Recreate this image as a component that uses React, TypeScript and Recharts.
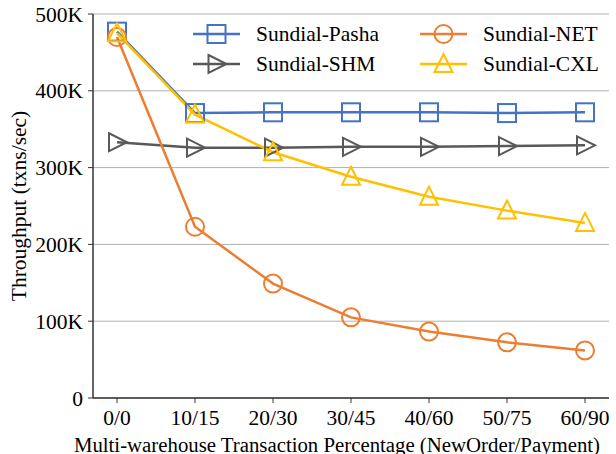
import {
  LineChart,
  Line,
  XAxis,
  YAxis,
  CartesianGrid,
  Legend,
  Label,
} from "recharts";

// TPC-C throughput vs. share of multi-warehouse transactions
const categories = ["0/0", "10/15", "20/30", "30/45", "40/60", "50/75", "60/90"];
const pasha = [477000, 371000, 372000, 372000, 372000, 371000, 372000];
const shm = [333000, 326000, 326000, 327000, 327000, 328000, 329000];
const net = [470000, 223000, 149000, 105000, 86500, 72500, 62000];
const cxl = [475000, 369000, 320000, 288000, 262000, 244000, 228000];
const yTicks = [0, 100000, 200000, 300000, 400000, 500000];

const FONT = "Liberation Serif, Times New Roman, serif";
const FS = 21.5;
const fontStyle = { fontFamily: FONT };

const series = [
  { key: "pasha", name: "Sundial-Pasha", color: "#4472C4", marker: "square" },
  { key: "shm", name: "Sundial-SHM", color: "#595959", marker: "right" },
  { key: "net", name: "Sundial-NET", color: "#ED7D31", marker: "circle" },
  { key: "cxl", name: "Sundial-CXL", color: "#FFC000", marker: "up" },
];

const data = categories.map((cat, i) => ({
  cat,
  pasha: pasha[i],
  shm: shm[i],
  net: net[i],
  cxl: cxl[i],
}));

function Marker({ kind, cx, cy, color }: { kind: string; cx: number; cy: number; color: string }) {
  const common = { fill: "none", stroke: color, strokeWidth: 2 };
  if (kind === "square") return <rect x={cx - 9} y={cy - 9} width={18} height={18} {...common} />;
  if (kind === "circle") return <circle cx={cx} cy={cy} r={9} {...common} />;
  if (kind === "right")
    return <polygon points={`${cx - 8},${cy - 9} ${cx + 10},${cy} ${cx - 8},${cy + 9}`} {...common} />;
  return <polygon points={`${cx},${cy - 10} ${cx + 9},${cy + 8} ${cx - 9},${cy + 8}`} {...common} />;
}

function makeDot(kind: string, color: string) {
  return (props: any) => {
    const { cx, cy, index } = props;
    if (cx == null || cy == null) return <g key={index} />;
    return (
      <g key={`${kind}-${index}`}>
        <Marker kind={kind} cx={cx} cy={cy} color={color} />
      </g>
    );
  };
}

// two-column legend, column-major like matplotlib's ncol=2
function renderLegend() {
  const cols = [193, 420];
  const rows = [34, 64];
  return (
    <svg width={616} height={90} style={{ display: "block" }}>
      {series.map((s, i) => {
        const x0 = cols[Math.floor(i / 2)];
        const y = rows[i % 2];
        return (
          <g key={s.key}>
            <line x1={x0} y1={y} x2={x0 + 47} y2={y} stroke={s.color} strokeWidth={2.5} />
            <Marker kind={s.marker} cx={x0 + 23.5} cy={y} color={s.color} />
            <text
              x={x0 + 63}
              y={y}
              dominantBaseline="central"
              style={fontStyle}
              fontSize={FS}
              fill="#000"
            >
              {s.name}
            </text>
          </g>
        );
      })}
    </svg>
  );
}

function formatK(v: number) {
  return v === 0 ? "0" : `${v / 1000}K`;
}

export default function App() {
  const tickStyle = { fontFamily: FONT, fontSize: FS, fill: "#000", style: fontStyle };
  return (
    <div style={{ position: "absolute", left: 0, top: 0, background: "#fff", fontFamily: FONT }}>
      <LineChart
        width={616}
        height={454}
        data={data}
        margin={{ top: 14, right: 7, left: 0, bottom: 0 }}
        style={fontStyle}
      >
        <CartesianGrid vertical={false} stroke="#b0b0b0" strokeWidth={1} />
        <XAxis
          dataKey="cat"
          height={56}
          padding={{ left: 24, right: 24 }}
          tick={tickStyle}
          tickSize={5}
          tickMargin={7}
          axisLine={{ stroke: "#333", strokeWidth: 1.5 }}
          tickLine={{ stroke: "#333" }}
          interval={0}
        >
          <Label
            content={({ viewBox }: any) => (
              <text
                x={viewBox.x + viewBox.width / 2 - 14}
                y={viewBox.y + 46}
                textAnchor="middle"
                dominantBaseline="central"
                style={fontStyle}
                fontSize={20.8}
                fill="#000"
              >
                Multi-warehouse Transaction Percentage (NewOrder/Payment)
              </text>
            )}
          />
        </XAxis>
        <XAxis
          xAxisId="top"
          dataKey="cat"
          orientation="top"
          height={0}
          tick={false}
          tickLine={false}
          axisLine={{ stroke: "#333", strokeWidth: 1.5 }}
        />
        <YAxis
          width={93}
          domain={[0, 500000]}
          ticks={yTicks}
          tickFormatter={formatK}
          tick={tickStyle}
          tickSize={5}
          tickMargin={5}
          axisLine={{ stroke: "#333", strokeWidth: 1.5 }}
          tickLine={{ stroke: "#333" }}
        >
          <Label
            content={({ viewBox }: any) => {
              const cx = 19;
              const cy = viewBox.y + viewBox.height / 2;
              return (
                <text
                  x={cx}
                  y={cy}
                  transform={`rotate(-90, ${cx}, ${cy})`}
                  textAnchor="middle"
                  dominantBaseline="central"
                  style={fontStyle}
                  fontSize={FS}
                  fill="#000"
                >
                  Throughput (txns/sec)
                </text>
              );
            }}
          />
        </YAxis>
        <YAxis
          yAxisId="right"
          orientation="right"
          width={0}
          domain={[0, 500000]}
          tick={false}
          tickLine={false}
          axisLine={{ stroke: "#333", strokeWidth: 1.5 }}
        />
        <Legend
          layout="vertical"
          verticalAlign="middle"
          align="center"
          content={renderLegend}
          wrapperStyle={{ position: "absolute", left: 0, top: 0, width: 616, height: 90 }}
        />
        {series.map((s) => (
          <Line
            key={s.key}
            type="linear"
            dataKey={s.key}
            name={s.name}
            stroke={s.color}
            strokeWidth={2.5}
            dot={makeDot(s.marker, s.color)}
            activeDot={false}
            isAnimationActive={false}
          />
        ))}
      </LineChart>
    </div>
  );
}
